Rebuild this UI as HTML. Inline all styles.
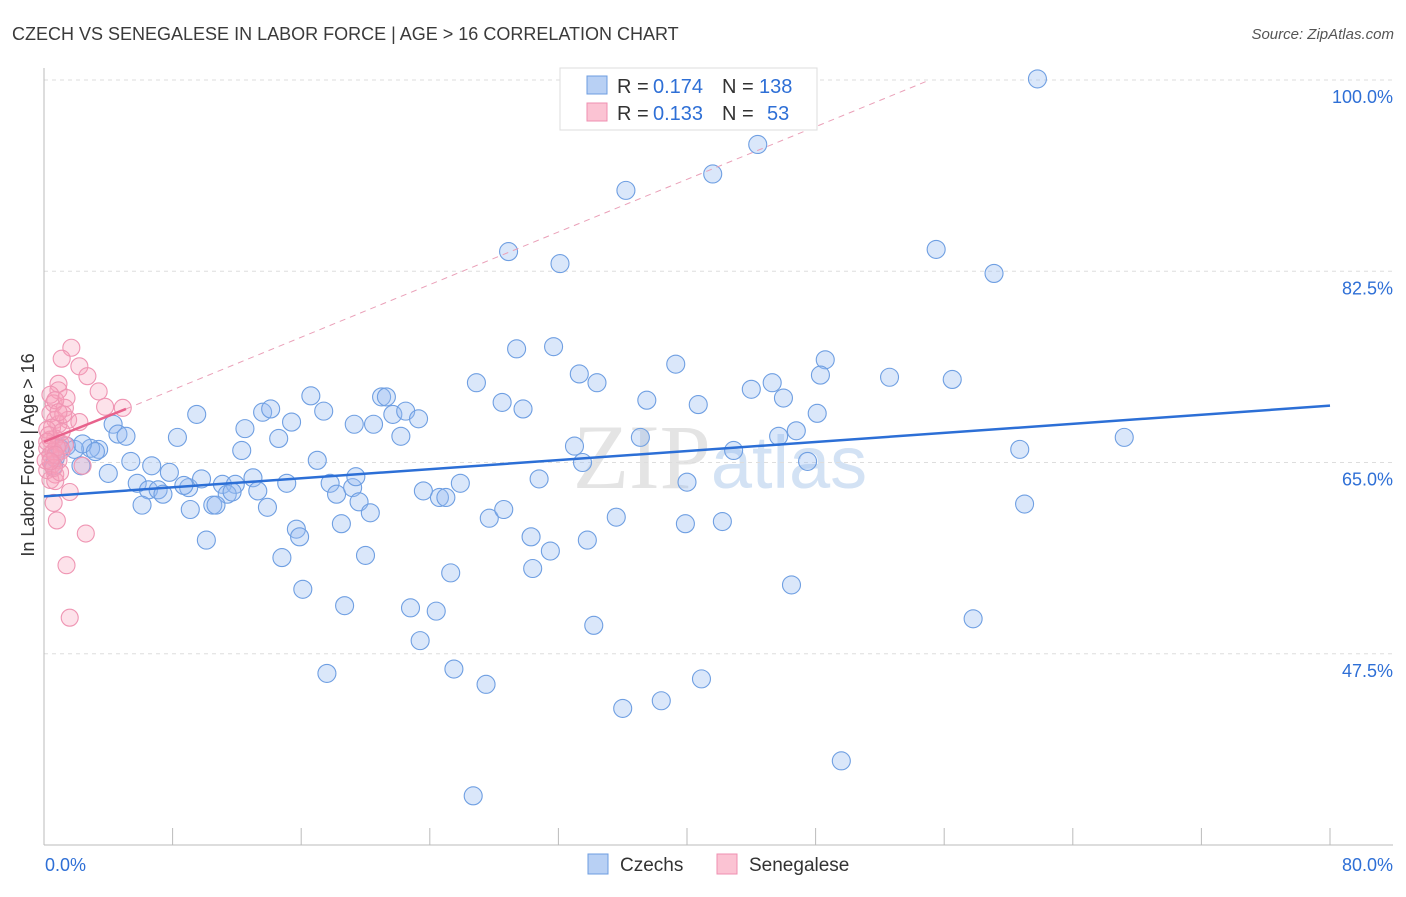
<!DOCTYPE html>
<html><head><meta charset="utf-8"><style>
body{margin:0;background:#fff;font-family:"Liberation Sans",sans-serif}
</style></head><body>
<svg id="chart" width="1406" height="892" xmlns="http://www.w3.org/2000/svg">
<text x="12" y="40" font-size="18" fill="#3a3a3a">CZECH VS SENEGALESE IN LABOR FORCE | AGE &gt; 16 CORRELATION CHART</text>
<text x="1394" y="39" font-size="15" fill="#555" text-anchor="end" font-style="italic">Source: ZipAtlas.com</text>
<text x="720" y="488" font-size="92" fill="#e4e4e4" text-anchor="middle" font-family="Liberation Serif,serif">ZIP<tspan fill="#d3e2f4" font-family="Liberation Sans,sans-serif" font-size="74">atlas</tspan></text>
<g id="grid"></g><g id="axes"></g><g id="pts"></g><g id="trend"></g>
<text transform="translate(34,455) rotate(-90)" font-size="18" fill="#333" text-anchor="middle">In Labor Force | Age &gt; 16</text>
<g>
<rect x="560" y="68" width="257" height="62" fill="#fff" stroke="#ddd"/>
<rect x="587" y="76" width="20" height="18" fill="#b8d0f4" stroke="#6d9de0"/>
<rect x="587" y="103" width="20" height="18" fill="#fbc3d3" stroke="#ef8fb0"/>
<text x="617" y="93" font-size="20" fill="#333">R =</text>
<text x="653" y="93" font-size="20" fill="#2e6fd6">0.174</text>
<text x="722" y="93" font-size="20" fill="#333">N =</text>
<text x="759" y="93" font-size="20" fill="#2e6fd6">138</text>
<text x="617" y="120" font-size="20" fill="#333">R =</text>
<text x="653" y="120" font-size="20" fill="#2e6fd6">0.133</text>
<text x="722" y="120" font-size="20" fill="#333">N =</text>
<text x="767" y="120" font-size="20" fill="#2e6fd6">53</text>
</g>
<g>
<rect x="588" y="854" width="20" height="20" fill="#b8d0f4" stroke="#6d9de0"/>
<text x="620" y="871" font-size="19" fill="#333">Czechs</text>
<rect x="717" y="854" width="20" height="20" fill="#fbc3d3" stroke="#ef8fb0"/>
<text x="749" y="871" font-size="19" fill="#333">Senegalese</text>
</g>
</svg>
<script>
const yTicks=[100,82.5,65,47.5];
const yTickLabels=["100.0%","82.5%","65.0%","47.5%"];
const xEndLabels=["0.0%","80.0%"];
const czX=[61.8,44.4,41.6,36.2,28.9,32.1,55.5,59.1,29.4,31.7,39.3,48.6,26.9,33.3,34.4,28.5,29.8,37.5,40.7,44.0,45.3,46.0,48.3,48.1,52.6,56.5,67.2,60.7,61.0,16.6,21.0,21.3,9.5,13.6,14.1,15.4,17.4,12.5,14.6,20.5,21.7,22.5,23.3,22.2,8.3,4.3,4.6,5.1,12.3,19.3,33.0,37.1,42.9,45.7,46.8,47.5,33.5,17.0,5.4,3.4,2.9,1.4,1.9,2.4,3.2,1.0,0.7,0.6,2.3,4.0,6.7,7.8,9.0,5.8,6.5,7.1,7.4,6.1,8.7,9.8,11.1,11.9,13.0,13.3,11.4,11.7,10.5,10.7,9.1,13.9,15.1,17.8,18.2,19.2,19.4,19.6,20.3,18.5,15.7,15.9,14.8,20.0,10.1,23.6,24.6,25.0,25.9,30.8,40.0,27.7,28.6,30.3,31.5,33.8,35.6,39.9,42.2,30.4,25.3,16.1,18.7,22.8,24.4,34.2,46.5,57.8,23.4,17.6,25.5,27.5,40.9,38.4,36.0,49.6,26.7];
const czY=[100.1,94.1,91.4,89.9,84.3,83.2,84.5,82.3,75.4,75.6,74.0,74.4,72.3,73.1,72.3,70.5,69.9,70.7,70.3,71.7,72.3,70.9,73.0,69.5,72.8,72.6,67.3,66.2,61.2,71.1,71.0,71.0,69.4,69.6,69.9,68.7,69.7,68.1,67.2,68.5,69.4,69.7,69.0,67.4,67.3,68.5,67.6,67.4,66.1,68.5,66.5,67.3,66.1,67.4,67.9,65.1,65.0,65.2,65.1,66.2,66.3,66.5,66.2,66.7,66.0,66.3,65.4,64.7,64.7,64.0,64.7,64.1,62.7,63.1,62.5,62.5,62.1,61.1,62.9,63.5,63.0,63.0,63.6,62.4,62.1,62.3,61.1,61.1,60.7,60.9,63.1,63.1,62.1,62.7,63.7,61.4,60.4,59.4,58.9,58.2,56.3,56.5,57.9,62.4,61.8,61.8,63.1,63.5,63.2,59.9,60.7,58.2,56.9,57.9,60.0,59.4,59.6,55.3,54.9,53.4,51.9,51.7,51.4,50.1,53.8,50.7,48.7,45.7,46.1,44.7,45.2,43.2,42.5,37.7,34.5];
const snX=[1.7,1.1,2.2,2.7,0.9,0.9,3.4,0.6,3.8,4.9,1.3,0.4,1.5,2.2,0.7,0.9,0.5,0.7,1.0,1.3,0.4,0.2,0.6,0.9,0.5,0.2,0.7,0.4,0.7,2.4,1.6,0.6,0.8,2.6,1.4,1.6,0.2,0.4,1.1,0.1,0.4,1.2,0.3,0.8,0.6,1.0,0.2,1.1,0.7,0.4,0.7,1.4,0.9];
const snY=[75.5,74.5,73.8,72.9,72.2,71.6,71.5,70.4,70.1,70.0,70.0,69.5,68.9,68.7,68.9,68.5,68.2,67.2,66.8,66.6,67.1,66.3,66.0,65.2,64.8,64.3,63.9,63.4,63.3,64.7,62.3,61.3,59.7,58.5,55.6,50.8,68.0,65.7,66.1,65.2,71.2,69.4,67.5,66.4,64.5,64.1,66.9,67.8,65.7,65.1,70.7,70.9,69.6];
const czTrend=[[0,61.9],[80,70.2]];
const snTrend=[[0,66.9],[5.1,69.9]];
const snExt=[[5.1,69.9],[55.1,100]];
const NS="http://www.w3.org/2000/svg";
const X=v=>44+v*1286/80, Y=v=>80+(100-v)*765/70;
function mk(t,a,p){const e=document.createElementNS(NS,t);for(const k in a)e.setAttribute(k,a[k]);p.appendChild(e);return e;}
const grid=document.getElementById('grid'),axes=document.getElementById('axes'),pts=document.getElementById('pts'),tr=document.getElementById('trend');
yTicks.forEach((v,i)=>{
 const l=mk('line',{x1:44,x2:1393,y1:Y(v),y2:Y(v),stroke:'#ddd','stroke-dasharray':'4,4'},grid);
 
 
 const t=mk('text',{x:1393,y:Y(v)+23,'font-size':18,fill:'#2e6fd6','text-anchor':'end'},axes);
 t.textContent=yTickLabels[i];
 
 
});
const ya=mk('line',{x1:44,x2:44,y1:68,y2:845,stroke:'#bbb'},axes);


const xa=mk('line',{x1:44,x2:1393,y1:845,y2:845,stroke:'#bbb'},axes);


for(let i=0;i<=10;i++){const t=mk('line',{x1:X(i*8),x2:X(i*8),y1:828,y2:845,stroke:'#bbb'},axes);
 
 }
[[0,'start',45],[80,'end',1393]].forEach((d,i)=>{const t=mk('text',{x:d[2],y:871,'font-size':18,fill:'#2e6fd6','text-anchor':d[1]},axes);t.textContent=xEndLabels[i];
 
 });
czX.forEach((v,i)=>{const c=mk('circle',{cx:X(v),cy:Y(czY[i]),r:9,fill:'rgba(150,185,240,0.35)',stroke:'#6f9fe2','stroke-width':1.1},pts);
 
 });
snX.forEach((v,i)=>{const c=mk('circle',{cx:X(v),cy:Y(snY[i]),r:8.5,fill:'rgba(248,160,185,0.3)',stroke:'#ef95b3','stroke-width':1.1},pts);
 
 });
const e=mk('line',{x1:X(snExt[0][0]),y1:Y(snExt[0][1]),x2:X(snExt[1][0]),y2:Y(snExt[1][1]),stroke:'#eaa0b8','stroke-dasharray':'6,5'},tr);


const a=mk('line',{x1:X(czTrend[0][0]),y1:Y(czTrend[0][1]),x2:X(czTrend[1][0]),y2:Y(czTrend[1][1]),stroke:'#2c6fd6','stroke-width':2.5},tr);


const b=mk('line',{x1:X(snTrend[0][0]),y1:Y(snTrend[0][1]),x2:X(snTrend[1][0]),y2:Y(snTrend[1][1]),stroke:'#e8628c','stroke-width':2.5},tr);


</script>
</body></html>
